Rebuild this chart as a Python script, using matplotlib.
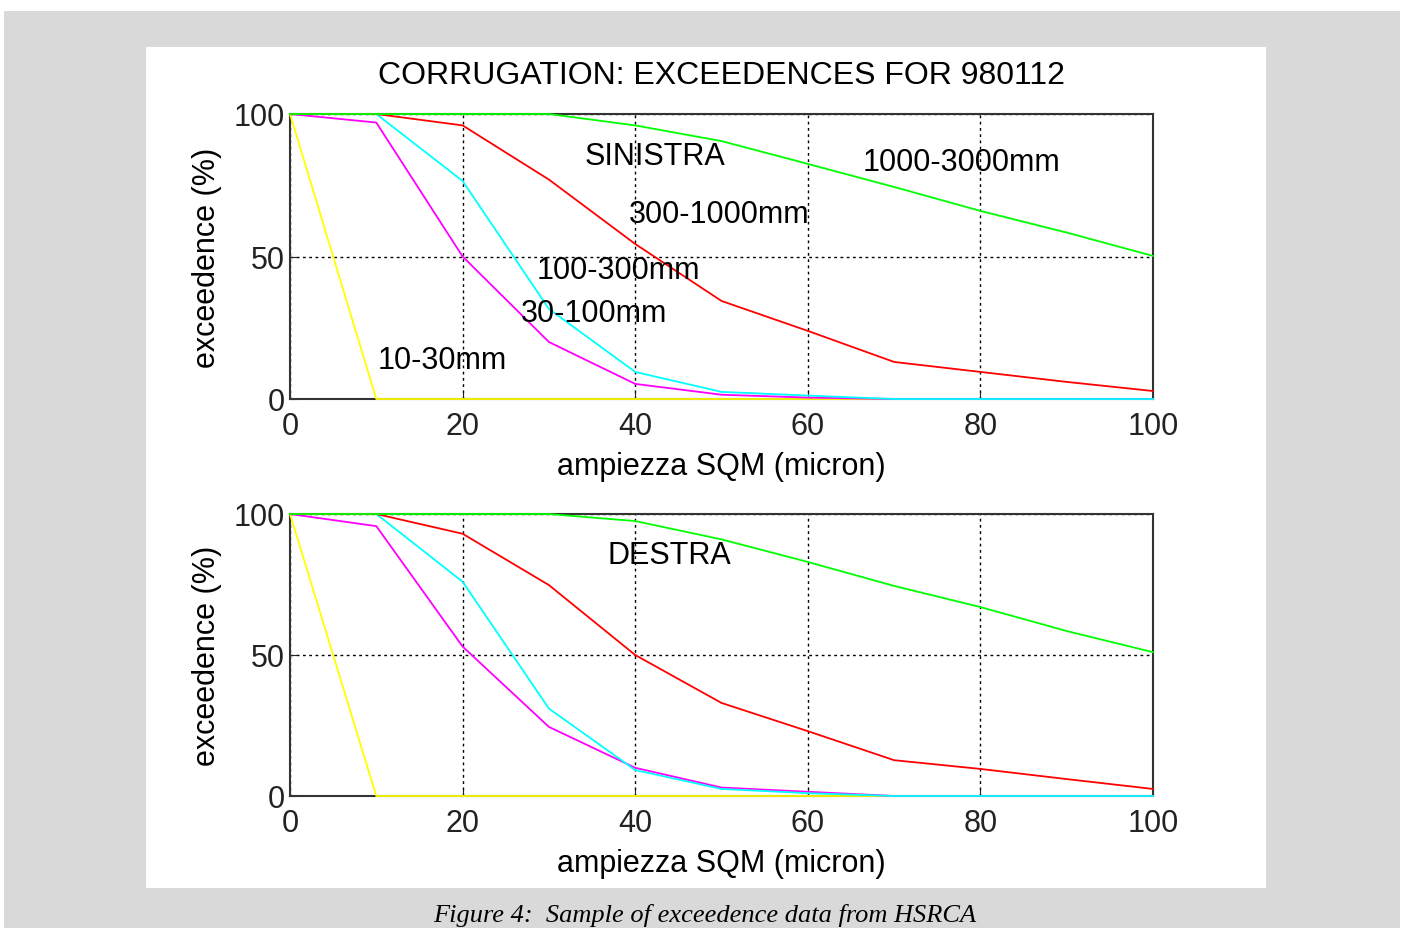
import numpy as np
import matplotlib.pyplot as plt
from matplotlib.patches import Rectangle

plt.rcParams['font.family'] = ['Liberation Sans', 'DejaVu Sans']

# ampiezza SQM (micron)
x = [0, 10, 20, 30, 40, 50, 60, 70, 80, 90, 100]

# SINISTRA
sin_10_30 = [100, 0, 0, 0, 0, 0, 0, 0, 0, 0, 0]
sin_30_100 = [100, 97, 50, 20, 5.3, 1.5, 0.5, 0, 0, 0, 0]
sin_100_300 = [100, 100, 76.5, 31.6, 9.5, 2.5, 1.2, 0, 0, 0, 0]
sin_300_1000 = [100, 100, 96, 77, 54.4, 34.4, 23.9, 13, 9.5, 6, 2.8]
sin_1000_3000 = [100, 100, 100, 100, 96, 90.5, 82.5, 74.4, 66, 58.4, 50.2]

# DESTRA
des_10_30 = [100, 0, 0, 0, 0, 0, 0, 0, 0, 0, 0]
des_30_100 = [100, 95.7, 53, 24.5, 10, 3, 1.5, 0, 0, 0, 0]
des_100_300 = [100, 100, 76, 31, 9.2, 2.5, 1, 0, 0, 0, 0]
des_300_1000 = [100, 100, 93, 74.8, 50, 33, 23, 12.7, 9.6, 6, 2.5]
des_1000_3000 = [100, 100, 100, 100, 97.5, 91, 83, 74.5, 67, 58.5, 51]

colori = ['yellow', 'magenta', 'cyan', 'red', 'lime']

W, H = 1401, 929
fig = plt.figure(figsize=(W / 100, H / 100), dpi=100)
fig.patch.set_facecolor('white')

# sfondo grigio della pagina e riquadro bianco della figura
fig.add_artist(Rectangle((4 / W, 0), (1400 - 4) / W, (H - 12) / H,
                         transform=fig.transFigure, facecolor='#d9d9d9',
                         edgecolor='none', zorder=-2))
fig.add_artist(Rectangle((146 / W, (H - 889) / H), (1266 - 146) / W, (889 - 48) / H,
                         transform=fig.transFigure, facecolor='white',
                         edgecolor='none', zorder=-1))


def disegna(ax, serie, etichette):
    for valori, c in zip(serie, colori):
        ax.plot(x, valori, color=c, linewidth=1.3, clip_on=False, zorder=3)
    ax.set_xlim(0, 100)
    ax.set_ylim(0, 100)
    ax.set_xticks([0, 20, 40, 60, 80, 100])
    ax.set_yticks([0, 50, 100])
    ax.grid(True, color='black', linestyle=(0, (2, 2.5)), linewidth=1.0)
    ax.tick_params(direction='in', length=5, labelsize=22, pad=4, colors='#222222')
    ax.tick_params(axis='x', pad=9)
    for s in ax.spines.values():
        s.set_color('#333333')
        s.set_linewidth(1.5)
    ax.set_xlabel('ampiezza SQM (micron)', fontsize=22, labelpad=7)
    ax.set_ylabel('exceedence (%)', fontsize=22, labelpad=8)
    for testo, tx, ty in etichette:
        ax.text(tx, ty, testo, fontsize=22, ha='center', va='center', zorder=4)


ax1 = fig.add_axes([290 / W, 1 - 400 / H, 863 / W, 285 / H])
disegna(ax1, [sin_10_30, sin_30_100, sin_100_300, sin_300_1000, sin_1000_3000],
        [('SINISTRA', 42.3, 85.3), ('1000-3000mm', 77.8, 83),
         ('300-1000mm', 49.7, 65), ('100-300mm', 38.1, 45.3),
         ('30-100mm', 35.2, 30.2), ('10-30mm', 17.6, 13.7)])
ax1.set_title('CORRUGATION: EXCEEDENCES FOR 980112', fontsize=23, pad=22)

ax2 = fig.add_axes([290 / W, 1 - 797 / H, 863 / W, 282 / H])
disegna(ax2, [des_10_30, des_30_100, des_100_300, des_300_1000, des_1000_3000],
        [('DESTRA', 44, 85.5)])

fig.text(705 / W, 2 / H, 'Figure 4:  Sample of exceedence data from HSRCA',
         family='Liberation Serif', style='italic', fontsize=19,
         ha='center', va='bottom')

fig.savefig('out.png', dpi=100)
